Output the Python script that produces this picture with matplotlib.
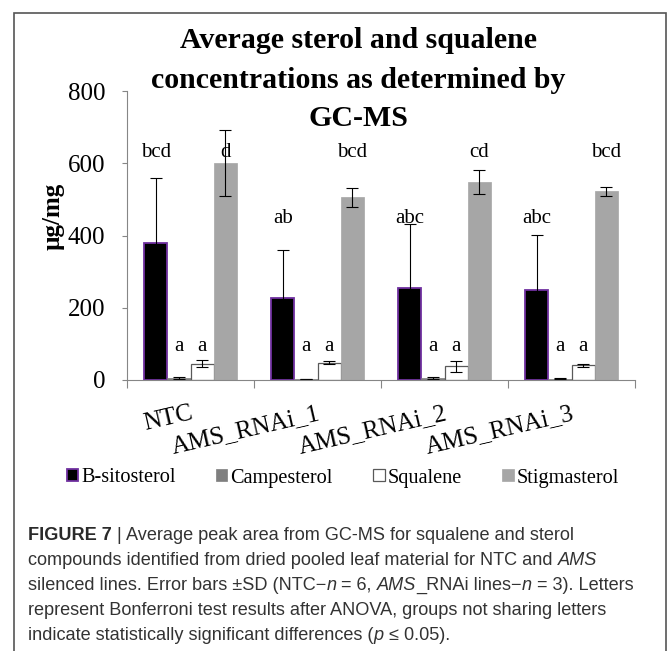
import matplotlib
matplotlib.use('Agg')
import matplotlib.pyplot as plt
import numpy as np
from matplotlib.patches import Rectangle

W, H = 670, 651

categories = ['NTC', 'AMS_RNAi_1', 'AMS_RNAi_2', 'AMS_RNAi_3']
series_names = ['B-sitosterol', 'Campesterol', 'Squalene', 'Stigmasterol']

b_sitosterol = [380, 226, 254, 249]
b_sitosterol_sd = [180, 134, 177, 153]
campesterol = [5, 3, 6, 4]
campesterol_sd = [2, 1, 3, 1]
squalene = [45, 48, 38, 41]
squalene_sd = [9, 5, 15, 4]
stigmasterol = [600, 506, 549, 522]
stigmasterol_sd = [92, 26, 33, 13]

b_sitosterol_letters = ['bcd', 'ab', 'abc', 'abc']
b_sitosterol_letter_y = [631, 446, 446, 446]
campesterol_letters = ['a', 'a', 'a', 'a']
campesterol_letter_y = [94, 94, 94, 94]
squalene_letters = ['a', 'a', 'a', 'a']
squalene_letter_y = [94, 94, 94, 94]
stigmasterol_letters = ['d', 'bcd', 'cd', 'bcd']
stigmasterol_letter_y = [631, 631, 631, 631]

title_lines = ['Average sterol and squalene', 'concentrations as determined by', 'GC-MS']
y_label = 'µg/mg'
y_ticks = [0, 200, 400, 600, 800]

caption_lines = [
    [('FIGURE 7 ', 'bold', 'normal'), ('|', 'normal', 'normal'),
     (' Average peak area from GC-MS for squalene and sterol', 'normal', 'normal')],
    [('compounds identified from dried pooled leaf material for NTC and ', 'normal', 'normal'),
     ('AMS', 'normal', 'italic')],
    [('silenced lines. Error bars \u00b1SD (NTC\u2212', 'normal', 'normal'), ('n', 'normal', 'italic'),
     (' = 6, ', 'normal', 'normal'), ('AMS', 'normal', 'italic'),
     ('_RNAi lines\u2212', 'normal', 'normal'), ('n', 'normal', 'italic'),
     (' = 3). Letters', 'normal', 'normal')],
    [('represent Bonferroni test results after ANOVA, groups not sharing letters', 'normal', 'normal')],
    [('indicate statistically significant differences (', 'normal', 'normal'), ('p', 'normal', 'italic'),
     (' \u2264 0.05).', 'normal', 'normal')],
]

serif = ['Liberation Serif', 'DejaVu Serif']
sans = ['Liberation Sans', 'DejaVu Sans']

fig = plt.figure(figsize=(W / 100, H / 100), dpi=100)
fig.patch.set_facecolor('white')

# frame
fig.add_artist(Rectangle((14 / W, -0.02), (666 - 14) / W, (H - 13) / H + 0.02,
                         transform=fig.transFigure, fill=False,
                         edgecolor='#555555', linewidth=1.2))

ax = fig.add_axes([127 / W, 1 - 380 / H, (635 - 127) / W, (380 - 91) / H])

values = [b_sitosterol, campesterol, squalene, stigmasterol]
sds = [b_sitosterol_sd, campesterol_sd, squalene_sd, stigmasterol_sd]
letters = [b_sitosterol_letters, campesterol_letters, squalene_letters, stigmasterol_letters]
letter_ys = [b_sitosterol_letter_y, campesterol_letter_y, squalene_letter_y, stigmasterol_letter_y]
styles = [
    dict(color='#000000', edgecolor='#7030A0', linewidth=1.3),
    dict(color='#7f7f7f', edgecolor='#7f7f7f', linewidth=0.5),
    dict(color='#ffffff', edgecolor='#595959', linewidth=0.9),
    dict(color='#a6a6a6', edgecolor='#a6a6a6', linewidth=0.5),
]

n = len(series_names)
bw = 1.0 / (n + 1.5)
x = np.arange(len(categories))
handles = []
for i in range(n):
    xi = x + (i - (n - 1) / 2) * bw
    h = ax.bar(xi, values[i], width=bw, yerr=sds[i], label=series_names[i],
               error_kw=dict(ecolor='black', elinewidth=0.8, capsize=4.2, capthick=0.8),
               zorder=2, **styles[i])
    handles.append(h)
    for xx, lab, ly in zip(xi, letters[i], letter_ys[i]):
        ax.text(xx, ly, lab, ha='center', va='center', fontsize=15, family=serif, zorder=3)

ax.set_xlim(-0.5, len(categories) - 0.5)
ax.set_ylim(0, 800)
ax.set_yticks(y_ticks)
ax.set_yticklabels([str(v) for v in y_ticks], family=serif, fontsize=18)
ax.tick_params(axis='y', direction='out', length=3.6, width=0.8, color='#868686', pad=12)
ax.set_xticks(x)
ax.set_xticklabels(categories, family=serif, fontsize=18, rotation=13, ha='right',
                   rotation_mode='anchor')
ax.tick_params(axis='x', which='major', length=0, pad=16)
ax.set_xticks(np.arange(len(categories) + 1) - 0.5, minor=True)
ax.tick_params(axis='x', which='minor', direction='out', length=5.8, width=0.8, color='#868686')
for s in ['top', 'right']:
    ax.spines[s].set_visible(False)
for s in ['left', 'bottom']:
    ax.spines[s].set_color('#868686')
    ax.spines[s].set_linewidth(0.8)

# title
title_y = [40, 80, 118]
for line, yy in zip(title_lines, title_y):
    fig.text(358 / W, 1 - yy / H, line, ha='center', va='center', fontsize=21.5,
             fontweight='bold', family=serif)

fig.text(53 / W, 1 - 216 / H, y_label, rotation=90, ha='center', va='center',
         fontsize=18, fontweight='bold', family=serif)

leg = fig.legend(handles=handles, labels=series_names, loc='center',
                 bbox_to_anchor=(343 / W, 1 - 478 / H), ncol=4, frameon=False,
                 prop=dict(family=serif, size=14.6), handlelength=0.55, handleheight=0.55,
                 handletextpad=0.15, columnspacing=2.0, borderaxespad=0)

# caption
renderer = fig.canvas.get_renderer()
cap_baselines = [540, 565, 590, 615, 640]
for segs, yb in zip(caption_lines, cap_baselines):
    xp = 28.0
    for txt, wt, st in segs:
        t = fig.text(xp / W, 1 - yb / H, txt, ha='left', va='baseline', fontsize=13.1,
                     fontweight=wt, fontstyle=st, family=sans,
                     color='#333333' if wt == 'normal' else '#2a2a2a')
        bb = t.get_window_extent(renderer)
        xp += bb.width

fig.savefig('out.png', dpi=100, facecolor='white')
